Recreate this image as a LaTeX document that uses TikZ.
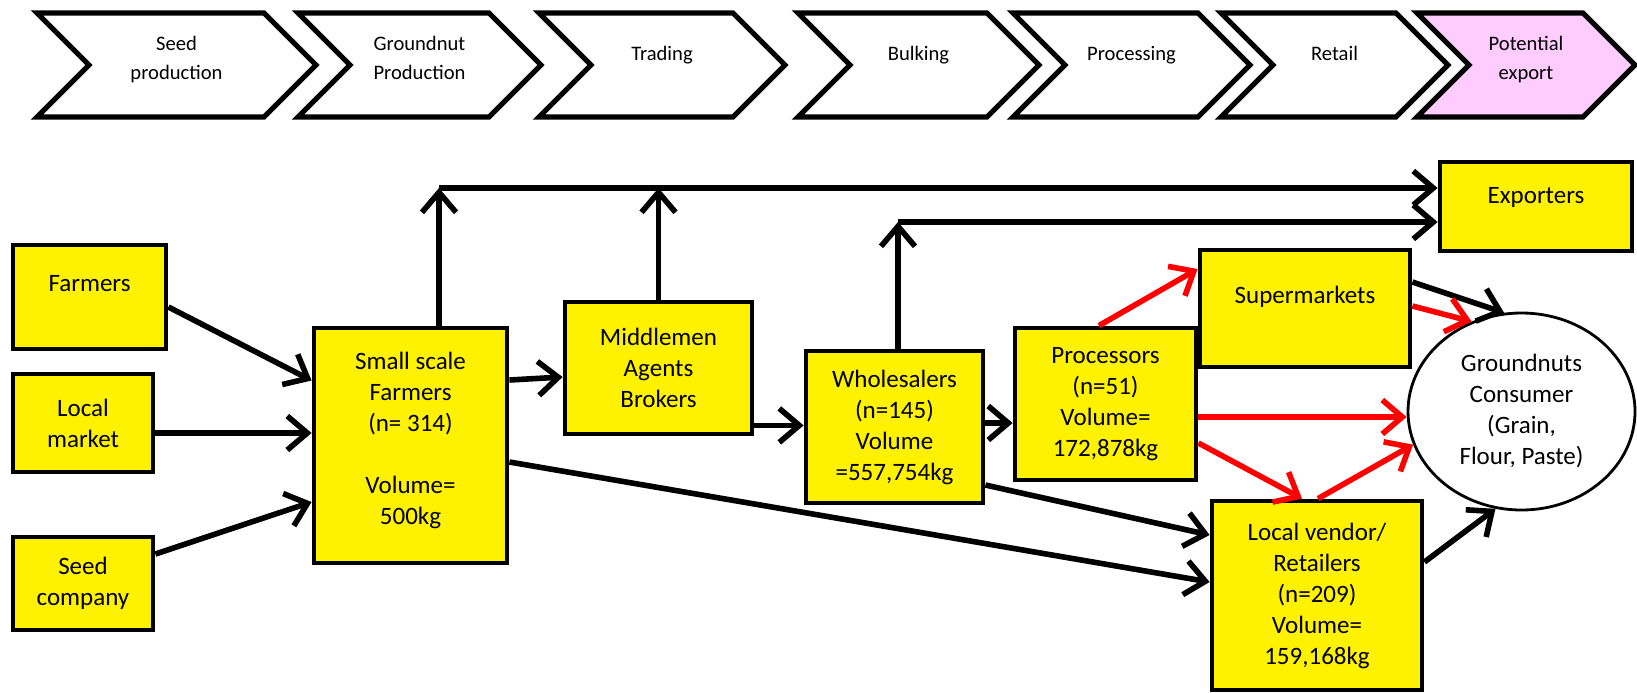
\documentclass[tikz,border=0pt]{standalone}
\usepackage{fontspec}
\setmainfont{Carlito}
\usetikzlibrary{shapes.symbols, shapes.geometric, arrows.meta}

\definecolor{exportpink}{RGB}{255,204,255}

\begin{document}
\begin{tikzpicture}[x=0.5pt, y=-0.5pt]
        \tikzset{
            arr/.style={line width=2.8pt, -{Straight Barb[length=10pt, width=17pt]}}, % black flows
            red_arr/.style={arr, draw=red}, % flows out of the processors
            box/.style={draw, line width=2.4pt, fill=yellow, align=center, inner sep=2pt, font=\fontsize{12.5}{15.5}\selectfont}, % actors
            chev/.style={draw, line width=2.6pt, shape=signal, signal from=west, signal to=east, signal pointer angle=90, minimum height=52pt, inner sep=1pt, align=center, text depth=12pt, font=\fontsize{10.3}{14.5}\selectfont}, % value chain steps
            }
        \useasboundingbox (0,0) rectangle (1637,692);

        % value chain steps
        \node[chev, minimum width=139.5pt, text depth=7.5pt] (seed_chev) at (176.5,65) {Seed\\production};
        \node[chev, minimum width=121.5pt, text depth=7.5pt] (groundnut_chev) at (419.5,65) {Groundnut\\Production};
        \node[chev, minimum width=123pt] (trading_chev) at (662,65) {Trading};
        \node[chev, minimum width=120.5pt] (bulking_chev) at (918.5,65) {Bulking};
        \node[chev, minimum width=118.5pt] (processing_chev) at (1131.5,65) {Processing};
        \node[chev, minimum width=113.5pt] (retail_chev) at (1334.5,65) {Retail};
        \node[chev, minimum width=109pt, fill=exportpink, text depth=7.5pt] (export_chev) at (1526,65) {Potential\\export};

        % actors
        \node[box, minimum width=76.5pt, minimum height=52pt, text depth=14pt] (farmers_box) at (89.5,297) {Farmers};
        \node[box, minimum width=70pt, minimum height=49pt] (local_box) at (83,423) {Local\\market};
        \node[box, minimum width=70pt, minimum height=46.5pt] (seed_box) at (83,583.5) {Seed\\company};
        \node[box, minimum width=96.5pt, minimum height=117.5pt, text depth=7.5pt] (small_box) at (410.5,445.5) {Small scale\\Farmers\\(n= 314)\\[15.5pt]Volume=\\500kg};
        \node[box, minimum width=93.5pt, minimum height=66pt] (middle_box) at (658.5,368) {Middlemen\\Agents\\Brokers};
        \node[box, minimum width=88.5pt, minimum height=76pt] (whole_box) at (894.5,427) {Wholesalers\\(n=145)\\Volume\\=557,754kg};
        \node[box, minimum width=90.5pt, minimum height=76pt] (proc_box) at (1105.5,404) {Processors\\(n=51)\\Volume=\\172,878kg};
        \node[box, minimum width=105pt, minimum height=58.5pt, text depth=14pt] (super_box) at (1305,308.5) {Supermarkets};
        \node[box, minimum width=96pt, minimum height=44.5pt, text depth=11.5pt] (export_box) at (1536,206.5) {Exporters};
        \node[box, minimum width=105pt, minimum height=94.5pt] (vendor_box) at (1317,595.5) {Local vendor/\\Retailers\\(n=209)\\Volume=\\159,168kg};
        \node[draw, ellipse, line width=1.4pt, minimum width=113.5pt, minimum height=98.5pt, inner sep=0pt, align=center, font=\fontsize{12.5}{15.5}\selectfont] (consumer) at (1521.5,411.5) {Groundnuts\\Consumer\\(Grain,\\Flour, Paste)};

        % rails to the exporters
        \coordinate (top_rail) at (439,188);
        \coordinate (mid_rail) at (898,222);
        \draw[arr] (small_box.north -| top_rail) -- (top_rail);
        \draw[arr] (middle_box.north) -- (middle_box.north |- top_rail);
        \draw[arr] (top_rail) -- (top_rail -| export_box.west);
        \draw[arr] (whole_box.north -| mid_rail) -- (mid_rail);
        \draw[arr] (mid_rail) -- (mid_rail -| export_box.west);

        % inputs to small scale farmers
        \draw[arr] ([yshift=-5pt]farmers_box.east) -- ([yshift=32.5pt]small_box.west);
        \draw[arr] ([yshift=-5pt]local_box.east) -- ([yshift=-5pt]local_box.east -| small_box.west);
        \draw[arr] ([yshift=14.75pt]seed_box.east) -- ([yshift=-28.25pt]small_box.west);

        % trade paths
        \draw[arr] ([yshift=32.75pt]small_box.east) -- ([yshift=-4.5pt]middle_box.west);
        \draw[arr] ([yshift=5.5pt]middle_box.south east) -- ([yshift=5.5pt]middle_box.south east -| whole_box.west);
        \draw[arr] ([yshift=2pt]whole_box.east) -- ([yshift=2pt]whole_box.east -| proc_box.west);
        \draw[arr] ([yshift=-29pt]whole_box.east) -- ([yshift=30.25pt]vendor_box.west);
        \draw[arr] ([yshift=-8.25pt]small_box.east) -- ([yshift=6.75pt]vendor_box.west);

        % processor paths
        \draw[red_arr] ([xshift=-3.25pt]proc_box.north) -- ([yshift=19.75pt]super_box.west);
        \draw[red_arr] ([yshift=-6.5pt]proc_box.east) -- ([yshift=-6.5pt]proc_box.east -| consumer.west);
        \draw[red_arr] ([yshift=-19.5pt]proc_box.east) -- ([xshift=-7.5pt]vendor_box.north);

        % to the consumer
        \draw[red_arr] ([xshift=0.5pt]vendor_box.north) -- (consumer.197);
        \draw[arr] ([yshift=16.75pt]vendor_box.east) -- (consumer.255);
        \draw[arr] ([yshift=13.25pt]super_box.east) -- (consumer.100);
        \draw[red_arr] ([yshift=1.25pt]super_box.east) -- (consumer.119);
    \end{tikzpicture}
\end{document}
